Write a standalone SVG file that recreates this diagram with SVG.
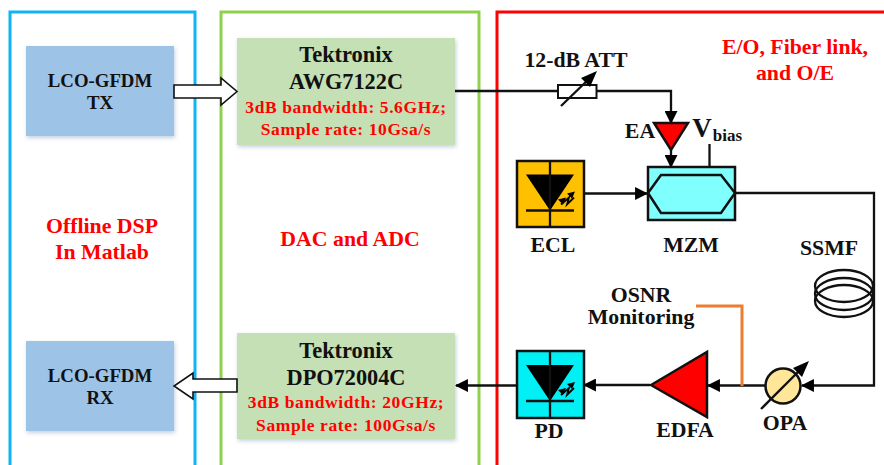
<svg xmlns="http://www.w3.org/2000/svg" width="884" height="465" viewBox="0 0 884 465">
<style>
text{font-family:"Liberation Serif","Times New Roman",serif;font-weight:bold;text-anchor:middle;fill:#111}
.r{fill:#f00}
.t20{font-size:21.800px}.t22{font-size:22.300px}.t16{font-size:17.500px;letter-spacing:.6px}.t17{font-size:18.800px}.tk{font-size:22.400px}
.frame{fill:none;stroke-width:3}
.ln{fill:none;stroke:#111;stroke-width:2.300}
.blk{fill:#000;stroke:none}
.box{stroke:#111;stroke-width:2.500}
.shadow{filter:drop-shadow(1px 2px 2px rgba(120,150,190,.45))}
</style>
<defs>
<marker id="ah" viewBox="0 0 12 12" refX="11" refY="6" markerWidth="13" markerHeight="13" markerUnits="userSpaceOnUse" orient="auto"><path d="M0 0L12 6L0 12Z" fill="#000"/></marker>
<g id="diode">
<path d="M-24 14L24 14L0 50Z" class="blk"/>
<path d="M-24 50H24M0 0V67" class="ln"/>
<path d="M11 44l8 -7l-2 7l7 -7" fill="none" stroke="#000" stroke-width="1.800"/>
<path d="M25 31l-8 2l5 5Z M16 37l-8 2l5 5Z" class="blk"/>
</g>
</defs>
<rect width="884" height="465" fill="#fff"/>
<g id="frames">
<rect class="frame" x="10" y="12" width="185" height="470" stroke="#0fb4f5"/>
<rect class="frame" x="221" y="12" width="258" height="470" stroke="#8fd14f"/>
<rect class="frame" x="497" y="12" width="400" height="470" stroke="#f00"/>
<text class="r t20" x="795" y="54">E/O, Fiber link,</text>
<text class="r t20" x="795" y="80">and O/E</text>
<text class="r t20" x="102" y="233">Offline DSP</text>
<text class="r t20" x="102" y="259">In Matlab</text>
<text class="r t20" x="350" y="246">DAC and ADC</text>
</g>
<g id="lco-tx">
<rect class="shadow" x="26" y="46" width="148" height="90" fill="#9dc3e6"/>
<text class="t17" x="100" y="87">LCO-GFDM</text><text class="t17" x="100" y="109">TX</text>
</g>
<g id="lco-rx">
<rect class="shadow" x="26" y="341" width="148" height="90" fill="#9dc3e6"/>
<text class="t17" x="100" y="382">LCO-GFDM</text><text class="t17" x="100" y="404">RX</text>
</g>
<g id="awg">
<rect class="shadow" x="237" y="38" width="218" height="107" fill="#c5e0b4"/>
<text class="tk" x="346" y="62">Tektronix</text><text class="t22" x="346" y="89">AWG7122C</text>
<text class="r t16" x="346" y="113">3dB bandwidth: 5.6GHz;</text><text class="r t16" x="346" y="135">Sample rate: 10Gsa/s</text>
</g>
<g id="dpo">
<rect class="shadow" x="237" y="333" width="218" height="106" fill="#c5e0b4"/>
<text class="tk" x="346" y="358">Tektronix</text><text class="t22" x="346" y="385">DPO72004C</text>
<text class="r t16" x="346" y="408">3dB bandwidth: 20GHz;</text><text class="r t16" x="346" y="431">Sample rate: 100Gsa/s</text>
</g>
<g id="connectors">
<path d="M174 85H221V78L237 91.500L221 105V98H174Z" fill="#fff" stroke="#111" stroke-width="1.600"/>
<path d="M237 379H193V373L174 386L193 399V392H237Z" fill="#fff" stroke="#111" stroke-width="1.600"/>
<path class="ln" d="M455 91H558M597 91H671V123" marker-end="url(#ah)"/>
<path class="ln" d="M671 150V167" marker-end="url(#ah)"/>
<path class="ln" d="M709.500 144V167"/>
<path class="ln" d="M584 193.500H647" marker-end="url(#ah)"/>
<path class="ln" d="M735 193H874V385.500H802" marker-end="url(#ah)"/>
<path class="ln" d="M765 385.500H708" marker-end="url(#ah)"/>
<path class="ln" d="M650 385H584" marker-end="url(#ah)"/>
<path class="ln" d="M517 385.500H456" marker-end="url(#ah)"/>
<path d="M696 306H742V386" fill="none" stroke="#ed7d31" stroke-width="3"/>
</g>
<g id="att">
<rect x="558" y="85" width="38.500" height="13" fill="#fff" stroke="#111" stroke-width="2"/>
<path class="ln" d="M561 106L592 76"/><path class="blk" d="M597 71L590 87L581 78Z"/>
<text class="t20" x="576" y="67">12-dB ATT</text>
</g>
<g id="ea">
<path d="M654 123H688L671 150Z" fill="#f00" stroke="#111" stroke-width="2.500"/>
<text class="t20" x="640" y="138">EA</text>
<text x="702" y="137" style="font-size:27px">V</text>
<text x="727.500" y="141" style="font-size:17px">bias</text>
</g>
<g id="ecl">
<rect class="box" x="517" y="161" width="67" height="66" fill="#ffc000"/>
<use href="#diode" x="550" y="160.500"/>
<text class="t20" x="553" y="252">ECL</text>
</g>
<g id="mzm">
<rect class="box" x="648" y="167" width="87" height="53" fill="#80ffff"/>
<path d="M648 193L661 175H721L735 193L721 213H661Z" fill="none" stroke="#111" stroke-width="2.500"/>
<text class="t20" x="691" y="252">MZM</text>
</g>
<g id="ssmf">
<ellipse class="ln" cx="844" cy="286" rx="29" ry="16"/>
<ellipse class="ln" cx="844" cy="294" rx="29" ry="16"/>
<ellipse class="ln" cx="844" cy="301" rx="29" ry="16"/>
<text class="t20" x="829" y="255">SSMF</text>
</g>
<g id="osnr">
<text class="t20" x="641" y="302">OSNR</text><text class="t20" x="641" y="324">Monitoring</text>
</g>
<g id="opa">
<circle cx="783" cy="386" r="17.500" fill="#ffe699" stroke="#111" stroke-width="2.500"/>
<path class="ln" d="M761 409L804 366"/><path class="blk" d="M809 361L802 377L793 368Z"/>
<text class="t20" x="785" y="430">OPA</text>
</g>
<g id="edfa">
<path d="M651 385L707 352V417Z" fill="#f00" stroke="#111" stroke-width="2.500"/>
<text class="t20" x="685" y="437">EDFA</text>
</g>
<g id="pd">
<rect class="box" x="517" y="351" width="67" height="67" fill="#00f0f5"/>
<use href="#diode" x="550" y="351"/>
<text class="t20" x="549" y="438">PD</text>
</g>
</svg>
